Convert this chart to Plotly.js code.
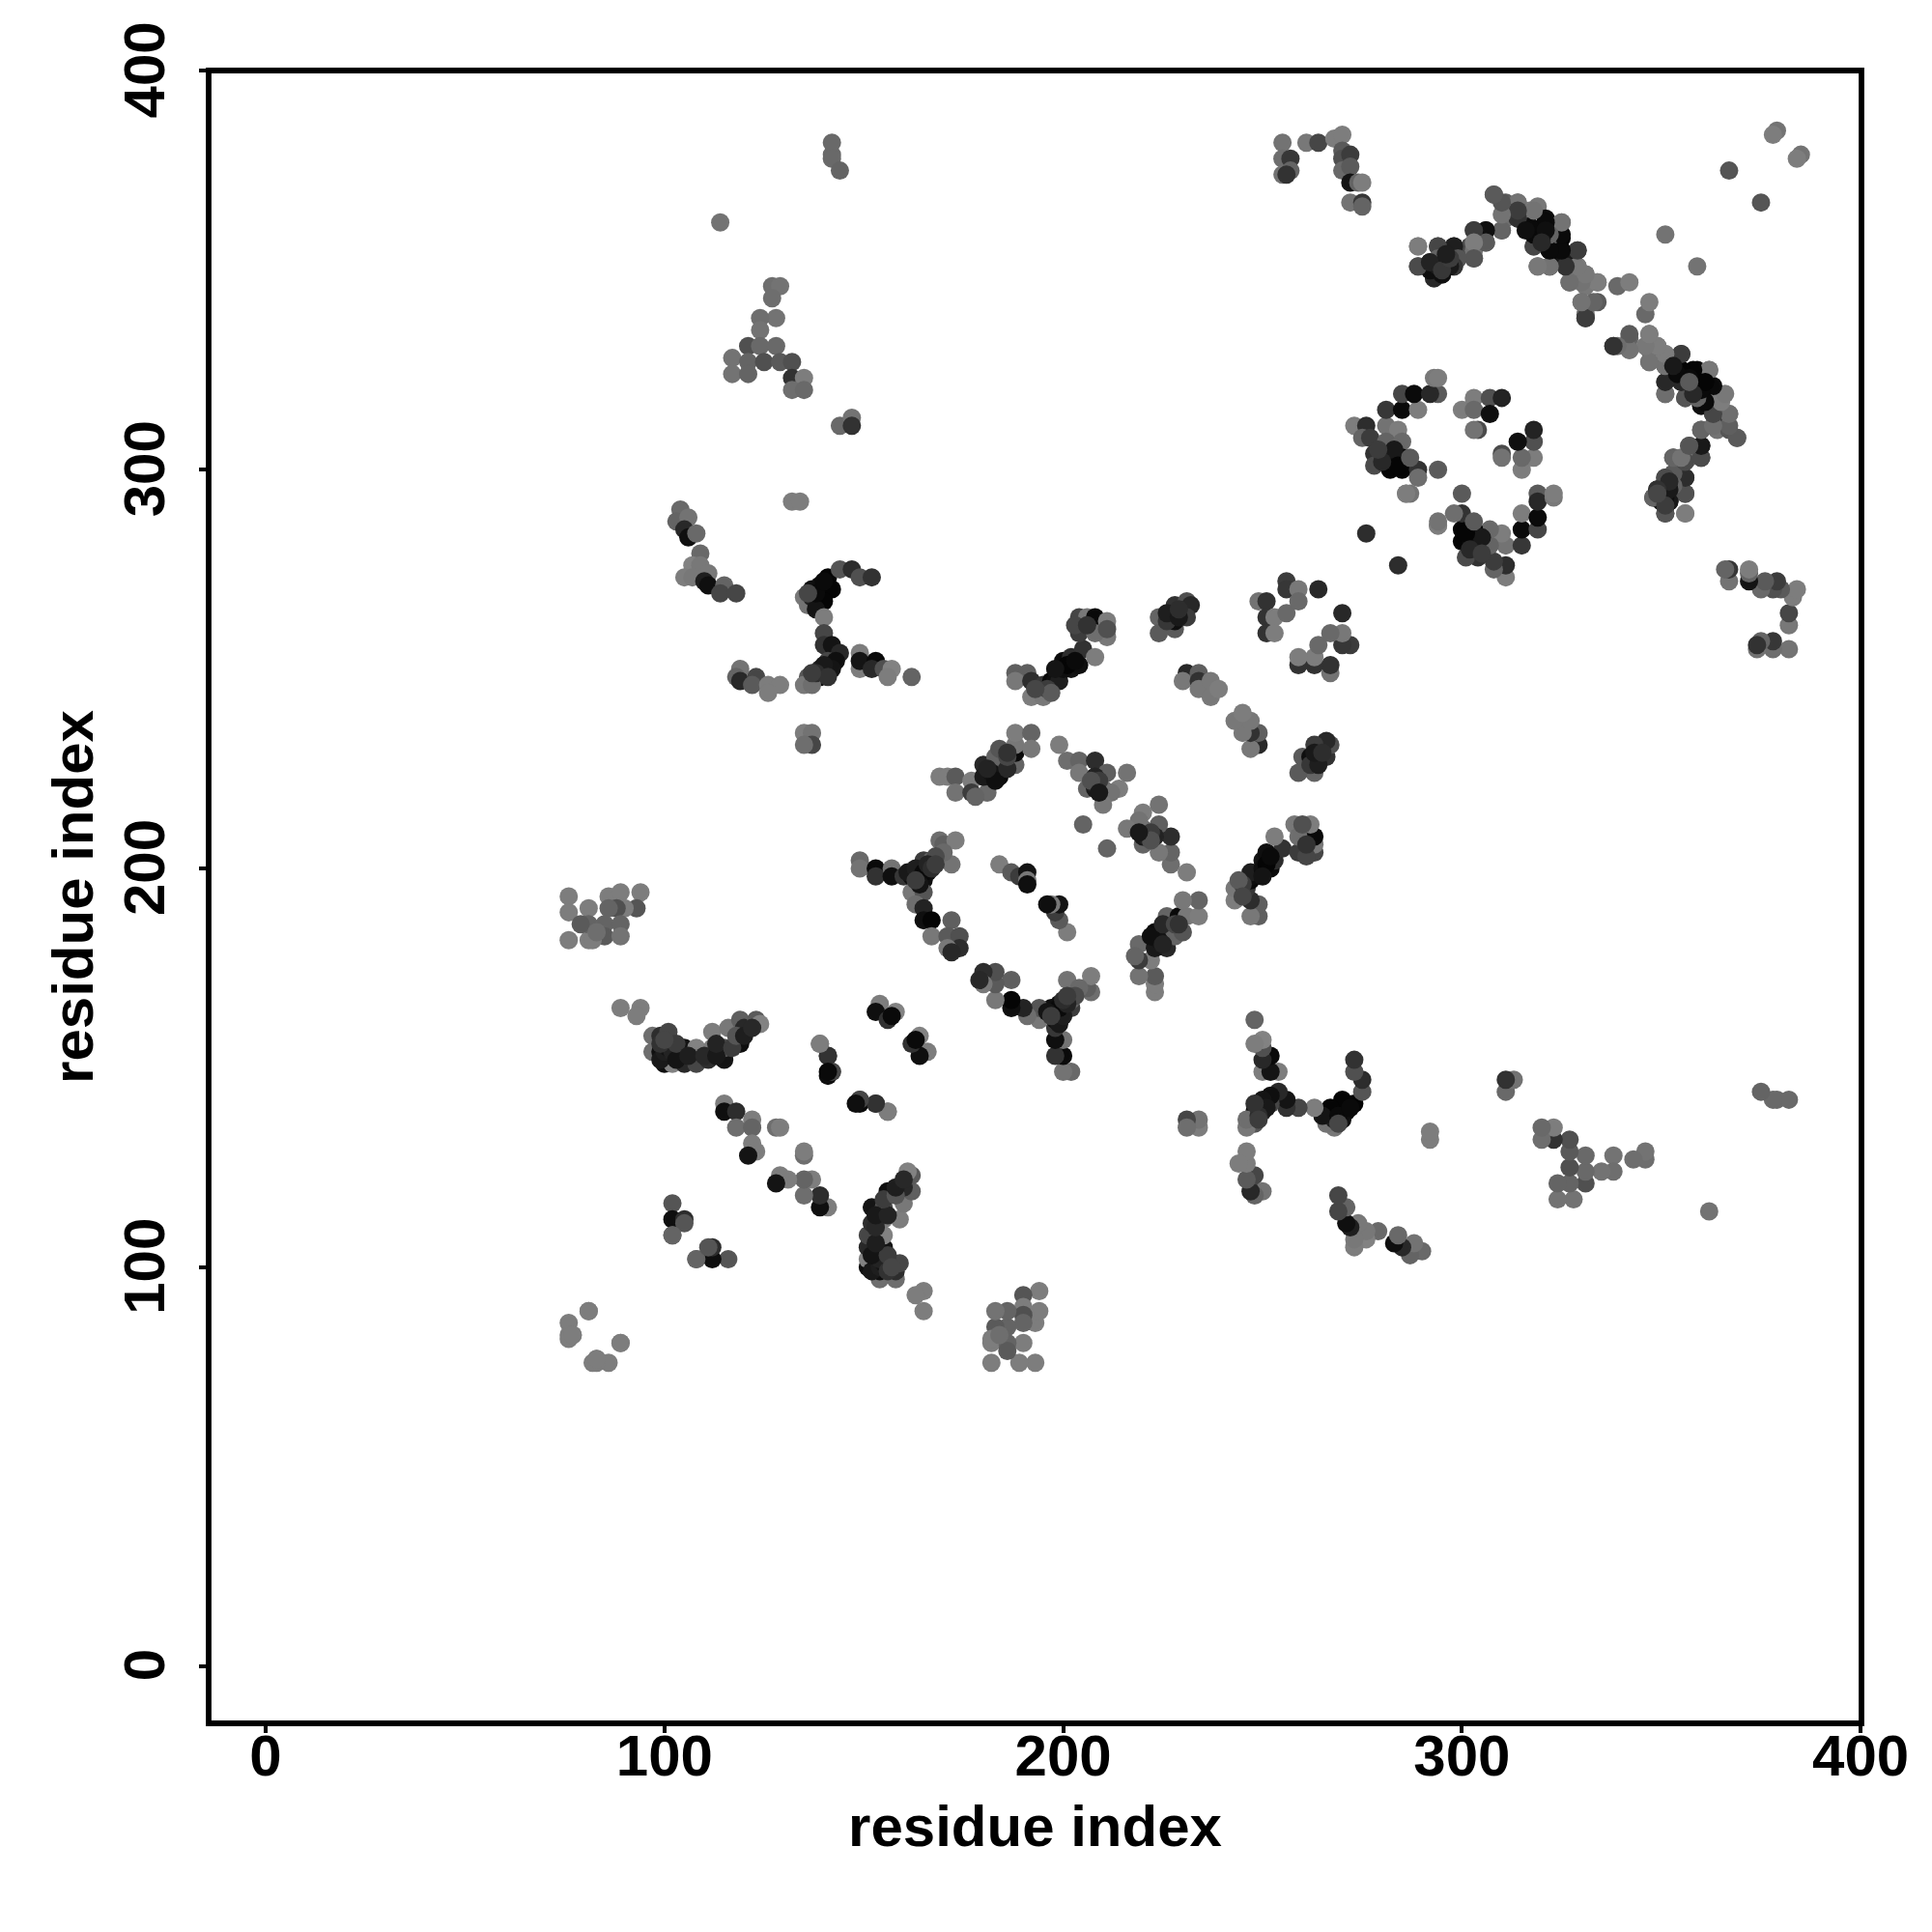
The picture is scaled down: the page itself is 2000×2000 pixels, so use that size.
<!DOCTYPE html>
<html><head><meta charset="utf-8"><script src="https://cdn.plot.ly/plotly-3.0.1.min.js"></script>
<style>html,body{margin:0;background:#fff}</style></head><body><div id="c" style="width:2000px;height:2000px"></div>
<script>
// contacts: [residue i, residue j, grey level]; the map is symmetric, so each contact is drawn at (i,j) and (j,i)
const nearDiagonalA=[[76,86,125],[76,83,125],[76,82,125],[77,83,125],[81,89,125],[83,77,125],[89,81,125],[102,116,85],[102,112,15],[105,112,45],[102,108,100],[105,111,85],[108,102,100]];
const clusterB=[[76,193,125],[76,189,125],[76,182,125],[81,190,125],[81,182,125],[81,186,100],[79,186,90],[86,193,125],[89,194,125],[94,194,125],[93,190,85],[90,190,125],[88,190,80],[86,190,100],[85,186,100],[89,186,100],[85,183,90],[89,183,115],[82,182,125],[83,184,110],[89,165,125],[94,165,125],[93,163,125]];
const clusterC=[[97,158,110],[99,158,45],[101,159,70],[97,154,110],[99,154,15],[100,151,15],[102,151,130],[105,155,20],[108,155,130],[105,151,40],[108,151,70],[112,159,125],[112,155,125],[111,152,45],[115,152,20],[115,155,80],[116,160,120],[119,156,15],[119,162,95],[120,160,40],[123,162,90],[124,161,130],[99,152,25],[100,154,30],[101,155,20],[102,154,35],[103,152,20],[99,156,50],[103,156,60],[106,153,30],[110,153,40],[113,153,25],[113,156,35],[117,155,60],[118,158,85],[120,158,30],[122,160,40],[100,157,70]];
const clusterD=[[139,156,125],[141,153,50],[142,149,70],[141,148,15],[154,166,125],[153,164,15],[158,164,130],[156,162,50],[157,163,10],[149,142,70],[153,141,50],[149,141,10],[156,139,125],[115,141,125],[115,139,15],[118,139,45],[122,137,125],[118,135,110],[122,135,100],[122,131,125],[123,129,125],[121,128,20],[128,135,110],[129,135,125]];
const clusterE=[[142,379,105],[142,382,105],[142,378,105],[144,375,100],[114,362,115],[127,346,110],[129,346,115],[127,343,110],[128,338,115],[124,338,110],[124,335,115],[121,331,80],[124,331,105],[128,331,105],[117,328,115],[121,327,100],[125,327,80],[129,327,90],[132,327,80],[117,324,115],[121,324,100],[132,323,50],[135,323,125],[132,320,110],[135,320,105],[144,311,105],[147,313,115],[147,311,50]];
const clusterF=[[132,292,125],[134,292,125],[104,290,105],[103,287,100],[106,288,115],[105,285,40],[106,283,15],[108,284,105],[109,279,105],[107,276,130],[109,276,120],[105,273,125],[107,273,120],[111,274,120],[110,272,30],[111,271,15],[115,271,100],[114,269,70],[118,269,70]];
const clusterG=[[135,268,120],[136,266,115],[137,268,30],[139,271,5],[141,273,5],[142,270,5],[140,267,5],[138,265,20],[144,275,85],[147,275,45],[149,273,80],[152,273,50],[140,263,125],[140,259,70],[140,256,50],[142,256,20],[144,254,40],[141,252,70],[139,250,40],[139,248,15],[141,250,30],[136,248,85],[135,246,120],[137,246,110],[149,254,125],[149,250,125],[149,252,20],[153,252,10],[152,250,40],[155,250,80],[157,250,130],[156,248,125],[162,248,100],[119,250,115],[118,248,100],[119,247,40],[123,248,70],[122,246,90],[126,246,125],[129,246,125],[126,244,125],[135,234,125],[137,234,115],[137,231,70],[135,231,110],[143,252,15],[142,250,20],[140,251,25],[138,249,45],[141,248,50],[137,249,60],[137,270,15],[138,269,10],[140,272,10],[136,269,70]];
const clusterH=[[169,223,125],[171,223,125],[173,223,90],[173,219,115],[177,222,125],[177,219,60],[181,219,105],[178,218,100],[180,226,40],[180,223,25],[184,223,10],[184,226,75],[183,228,100],[184,230,85],[188,226,100],[188,229,10],[188,231,120],[188,234,125],[192,234,100],[192,230,120],[199,231,125],[201,227,110],[204,227,100],[208,227,45],[204,224,120],[211,224,95],[216,224,115],[208,223,35],[206,220,100],[208,220,25],[210,220,110],[214,220,125],[212,219,115],[210,216,120],[205,211,100],[182,224,20],[183,222,15],[181,225,35],[186,225,40],[186,228,70],[186,229,50],[208,221,35],[209,222,60],[207,222,80],[209,219,25]];
const clusterI=[[149,202,105],[149,200,115],[153,200,10],[153,198,50],[157,200,115],[157,198,15],[160,198,55],[162,198,15],[164,200,15],[165,202,60],[167,202,100],[166,199,15],[165,197,15],[163,199,10],[169,207,110],[170,206,95],[173,207,125],[172,201,115],[170,204,105],[168,203,75],[162,194,120],[165,194,85],[163,191,110],[165,190,35],[165,187,15],[167,187,5],[172,187,95],[167,183,120],[171,183,90],[174,183,80],[174,180,45],[171,180,120],[172,179,40],[184,201,125],[187,199,90],[189,198,60],[191,199,20],[191,197,120],[191,196,15],[161,199,25],[163,200,30],[165,199,10],[166,201,35],[167,200,45],[168,201,60],[164,196,20],[163,197,60]];
const clusterK=[[188,249,95],[191,249,95],[188,247,120],[192,243,125],[195,243,120],[192,247,45],[195,246,55],[197,247,10],[199,249,10],[200,252,10],[202,250,20],[204,251,15],[202,253,45],[205,255,50],[208,253,125],[204,263,70],[204,259,60],[206,263,120],[208,263,10],[211,262,125],[211,258,120],[208,259,110],[211,260,80],[224,263,100],[224,259,90],[228,260,90],[228,266,50],[228,262,15],[226,262,55],[231,267,80],[232,266,40],[231,263,60],[231,249,40],[230,247,120],[234,249,95],[234,247,50],[234,245,120],[237,247,120],[237,243,120],[239,245,125],[198,247,15],[199,247,30],[200,250,15],[201,251,5],[203,252,10],[198,250,20],[196,245,60],[197,244,90],[193,245,70],[226,264,30],[229,263,25],[229,265,45],[203,261,70],[206,261,50]];
const clusterL=[[249,267,115],[251,267,50],[251,263,50],[253,263,125],[251,259,50],[253,259,125],[256,264,105],[256,272,60],[256,270,55],[259,270,120],[259,267,105],[264,270,40]];
const clusterM=[[255,382,115],[255,378,110],[257,378,55],[255,374,115],[257,375,100],[256,374,50],[261,382,120],[264,382,70],[268,383,125],[270,384,125],[270,380,90],[270,378,80],[272,379,60],[270,375,105],[272,376,90],[272,372,20],[274,372,100],[275,372,125],[272,367,115],[275,367,55],[275,366,100]];
const clusterN=[[289,356,125],[289,351,85],[293,348,100],[294,356,80],[294,350,50],[296,351,30],[298,356,45],[299,353,90],[298,351,75],[296,353,100],[302,356,75],[303,353,100],[303,355,115],[303,360,75],[306,360,25],[306,357,85],[310,360,100],[308,369,90],[311,367,95],[311,363,110],[314,367,110],[314,363,70],[317,365,125],[319,366,120],[321,363,10],[317,361,10],[318,356,85],[318,359,100],[322,359,115],[325,362,120],[325,358,5],[325,355,5],[322,355,40],[329,355,60],[319,351,110],[322,351,40],[326,351,115],[329,351,125],[331,349,125],[327,347,115],[331,346,120],[334,347,125],[330,342,115],[334,342,90],[331,339,110],[331,338,50],[339,346,105],[342,347,125],[351,359,115],[367,375,85],[379,385,115],[378,384,125],[338,331,60],[342,333,100],[342,330,115],[347,334,125],[347,330,115],[349,331,120],[351,329,120],[355,329,60],[347,327,110],[351,326,50],[355,325,10],[359,325,10],[362,325,115],[351,322,115],[351,319,120],[355,322,10],[359,322,100],[356,318,70],[359,318,10],[362,321,10],[361,317,10],[365,318,115],[363,314,50],[367,314,115],[365,314,60],[360,310,100],[364,310,115],[367,310,85],[369,308,90],[360,306,15],[357,306,90],[360,303,60],[357,303,125],[353,303,85],[356,298,30],[353,299,85],[351,298,55],[356,294,70],[353,294,100],[351,297,25],[348,293,40],[350,292,15],[351,289,75],[356,289,125],[349,295,15],[320,360,10],[322,361,5],[319,358,40],[323,357,10],[324,354,10],[322,357,90],[326,353,25],[351,294,25],[352,292,35],[350,295,55],[353,297,60],[354,296,30],[358,320,10],[360,321,15],[357,320,40],[360,316,15],[292,352,25],[293,351,15],[295,352,25],[297,352,40],[291,351,60],[295,349,50],[294,349,70]];
const clusterO=[[273,311,125],[276,311,45],[275,308,100],[277,308,60],[281,311,115],[284,310,125],[281,307,100],[285,307,105],[278,304,50],[278,301,75],[282,303,5],[285,303,5],[282,300,5],[285,300,5],[283,302,15],[289,300,50],[289,298,110],[294,300,90],[286,294,125],[276,284,45],[281,315,55],[285,315,10],[289,315,125],[285,319,70],[288,319,10],[294,319,90],[292,319,40],[293,323,120],[294,323,125],[287,294,115],[294,286,125],[283,305,25],[284,301,5],[280,302,40],[279,305,60],[287,303,90]];
const clusterP=[[300,315,125],[303,318,125],[303,315,105],[307,318,80],[307,314,15],[310,318,35],[304,310,75],[303,310,115]];
const contacts=[].concat(nearDiagonalA,clusterB,clusterC,clusterD,clusterE,clusterF,clusterG,clusterH,clusterI,clusterK,clusterL,clusterM,clusterN,clusterO,clusterP);

const tickValues=[0,100,200,300,400];
const axisLabel='residue index';

const iVals=contacts.map(r=>r[0]), jVals=contacts.map(r=>r[1]), greys=contacts.map(r=>`rgb(${r[2]},${r[2]},${r[2]})`);
const font={family:'"Liberation Sans",Arial,sans-serif',size:60,color:'#000'};
function axis(range,extra){return Object.assign({range,tickmode:'array',tickvals:tickValues,ticktext:tickValues.map(v=>'<b>'+v+'</b>'),ticks:'outside',ticklen:9,tickwidth:4,tickcolor:'#000',showline:false,showgrid:false,zeroline:false,tickfont:font,automargin:false,title:{text:'<b>'+axisLabel+'</b>',font}},extra);}
const x=axis([-14.3,400.2],{ticklabelstandoff:-28});x.title.standoff=18;
const y=axis([-14.4,400.1],{tickangle:-90,ticklabelshift:8,ticklabelstandoff:12});y.title.standoff=0;
Plotly.newPlot('c',[{type:'scatter',mode:'markers',x:iVals.concat(jVals),y:jVals.concat(iVals),marker:{size:19,color:greys.concat(greys),line:{width:0}},hoverinfo:'skip'}],
{width:2000,height:2000,margin:{l:216,r:73,t:73,b:216},paper_bgcolor:'#fff',plot_bgcolor:'#fff',xaxis:x,yaxis:y,showlegend:false,
 shapes:[{type:'rect',xref:'paper',yref:'paper',x0:0,x1:1,y0:0,y1:1,line:{color:'#000',width:5.8},fillcolor:'rgba(0,0,0,0)',layer:'above'}]},{displayModeBar:false,staticPlot:true});
</script></body></html>
